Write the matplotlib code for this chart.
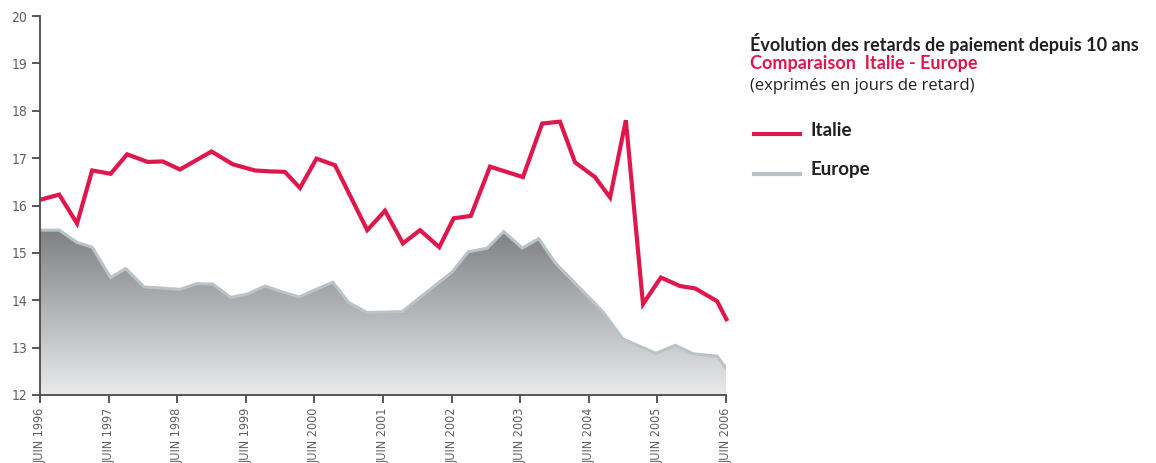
import numpy as np
import matplotlib.pyplot as plt
from matplotlib.colors import LinearSegmentedColormap

# x = years elapsed since June 1996
italie_x = [0, 0.28, 0.54, 0.76, 1.03, 1.27, 1.57, 1.79, 2.04, 2.27, 2.5, 2.81,
            3.13, 3.35, 3.57, 3.79, 4.03, 4.30, 4.77, 5.03, 5.29, 5.54, 5.82,
            6.03, 6.28, 6.56, 7.04, 7.32, 7.58, 7.80, 8.09, 8.31, 8.54, 8.79,
            9.05, 9.33, 9.55, 9.87, 10.02]
italie = [16.12, 16.23, 15.62, 16.74, 16.67, 17.08, 16.92, 16.93, 16.76, 16.95,
          17.14, 16.87, 16.74, 16.72, 16.71, 16.37, 16.99, 16.85, 15.48, 15.89,
          15.2, 15.48, 15.12, 15.73, 15.78, 16.82, 16.6, 17.73, 17.77, 16.91,
          16.6, 16.17, 17.8, 13.92, 14.48, 14.3, 14.25, 13.98, 13.56]

europe_x = [0, 0.28, 0.54, 0.76, 1.03, 1.25, 1.52, 1.75, 2.04, 2.29, 2.52, 2.78,
            3.02, 3.28, 3.54, 3.78, 4.04, 4.27, 4.50, 4.77, 5.28, 6.01, 6.24,
            6.52, 6.76, 7.03, 7.27, 7.51, 8.21, 8.50, 8.98, 9.26, 9.52, 9.87, 10.0]
europe = [15.48, 15.48, 15.22, 15.12, 14.48, 14.67, 14.28, 14.26, 14.23, 14.35,
          14.34, 14.06, 14.13, 14.3, 14.17, 14.07, 14.24, 14.38, 13.95, 13.74,
          13.76, 14.6, 15.02, 15.1, 15.45, 15.1, 15.3, 14.79, 13.75, 13.18,
          12.88, 13.05, 12.87, 12.82, 12.57]

tick_labels = ['JUIN %d' % y for y in range(1996, 2007)]

red = '#e0174d'
grey_line = '#b9c3c8'
axis_col = '#4a4a4a'

fig = plt.figure(figsize=(11.56, 4.63), dpi=100)
ax = fig.add_axes([40/1156, 1 - 395/463, 686/1156, 379/463])

# grey area with vertical gradient, clipped to the Europe curve
poly = ax.fill_between(europe_x, europe, 12, color='none', lw=0)
grad = np.linspace(0, 1, 256).reshape(-1, 1)
cmap = LinearSegmentedColormap.from_list('eu', ['#e8eaec', '#7f8082'])
img = ax.imshow(grad, cmap=cmap, aspect='auto', origin='lower',
                extent=[0, 10, 12, 15.5], zorder=1)
img.set_clip_path(poly.get_paths()[0], transform=ax.transData)

ax.plot(europe_x, europe, color=grey_line, lw=2.2, zorder=2,
        solid_joinstyle='miter')
ax.plot(italie_x, italie, color=red, lw=3.0, zorder=3, clip_on=False,
        solid_joinstyle='miter', solid_capstyle='butt')

ax.set_xlim(0, 10)
ax.set_ylim(12, 20)
ax.set_xticks(range(11))
ax.set_xticklabels(tick_labels, rotation=90)
ax.set_yticks(range(12, 21))
for s in ['top', 'right']:
    ax.spines[s].set_visible(False)
for s in ['left', 'bottom']:
    ax.spines[s].set_color(axis_col)
    ax.spines[s].set_linewidth(1.3)
    ax.spines[s].set_zorder(4)
ax.tick_params(direction='out', length=6, width=1.3, color=axis_col,
               labelcolor='#606060', labelsize=9, pad=3)
ax.tick_params(axis='y', labelsize=10)
for lab in ax.get_xticklabels() + ax.get_yticklabels():
    lab.set_family('DejaVu Sans')
    lab.set_stretch('condensed')
    lab.set_fontweight('light')

# titles and legend on the right
bold = dict(family=['Lato', 'DejaVu Sans'], fontweight='bold',
            fontsize=13, color='#231f20', va='center')
fig.text(750/1156, 1 - 44/463, 'Évolution des retards de paiement depuis 10 ans',
         **bold)
fig.text(750/1156, 1 - 64/463, 'Comparaison  Italie - Europe',
         **dict(bold, color=red))
fig.text(750/1156, 1 - 86/463, '(exprimés en jours de retard)',
         family=['Open Sans', 'DejaVu Sans'], fontsize=12, color='#231f20',
         va='center')

fig.add_artist(plt.Line2D([754/1156, 800/1156], [1 - 134/463, 1 - 134/463],
                          color=red, lw=3.0))
fig.text(811/1156, 1 - 130/463, 'Italie', **dict(bold, fontsize=13.5))
fig.add_artist(plt.Line2D([754/1156, 800/1156], [1 - 174/463, 1 - 174/463],
                          color=grey_line, lw=3.0))
fig.text(811/1156, 1 - 170/463, 'Europe', **dict(bold, fontsize=13.5))

fig.savefig('out.png', dpi=100)
